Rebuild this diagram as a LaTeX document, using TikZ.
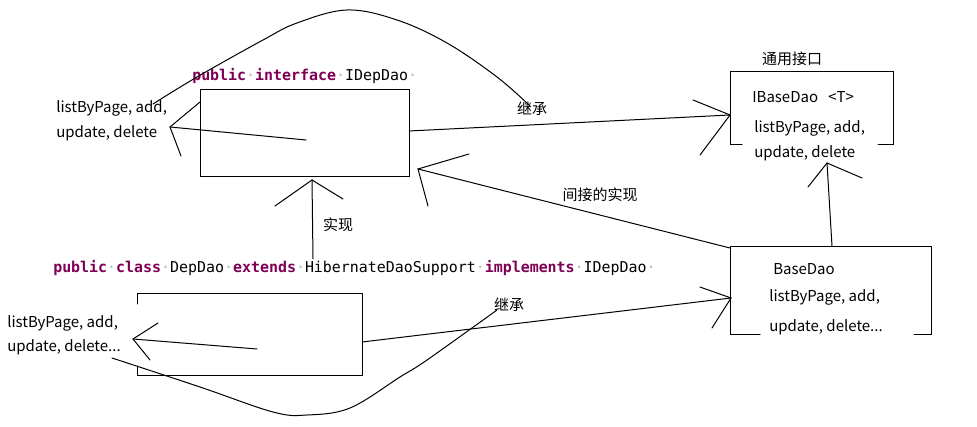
\documentclass[tikz,border=0pt]{standalone}
\usepackage{fontspec}
\setmainfont{Noto Sans CJK SC}
\newfontfamily\codefont{DejaVu Sans Mono}
\usetikzlibrary{calc}
\definecolor{kw}{HTML}{7F0055}
\definecolor{dotc}{HTML}{B4B4B4}
\newcommand{\kwd}[1]{\textcolor{kw}{\textbf{#1}}}
\newcommand{\spc}{\textcolor{dotc}{·}}
\begin{document}
\begin{tikzpicture}[x=0.75pt,y=-0.75pt,
  ln/.style={line width=0.75pt, line cap=round, line join=miter},
  lbl/.style={font=\fontsize{11.25}{14}\selectfont, inner sep=0pt, anchor=west},
  clbl/.style={font=\fontsize{11.25}{14}\selectfont, inner sep=0pt},
  code/.style={font=\codefont\fontsize{11.2}{13}\selectfont, inner sep=0pt, anchor=base west},
  boxn/.style={rectangle, inner sep=0pt, outer sep=0pt}]
\useasboundingbox (0,0) rectangle (977,427);

% boxes
\node[boxn, draw, line width=0.75pt, minimum width=156.75pt, minimum height=65.25pt] (topbox) at (304.5,133.5) {};
\node[boxn, minimum width=122.25pt, minimum height=54.75pt] (ibase) at (811.5,108.5) {};
\node[boxn, minimum width=150.75pt, minimum height=65.25pt] (base) at (830.5,290.5) {};
\node[boxn, minimum width=168.75pt, minimum height=60.75pt] (depbox) at (249.5,334.5) {};

\draw[ln] ($(ibase.south west)+(12,0)$) -- (ibase.south west) -- (ibase.north west) -- (ibase.north east) -- (ibase.south east) -- ($(ibase.south east)+(-15,0)$);
\draw[ln] ($(base.south west)+(30,0)$) -- (base.south west) -- (base.north west) -- (base.north east) -- (base.south east) -- ($(base.south east)+(-17,0)$);
\draw[ln] ($(depbox.north west)+(0,10)$) -- (depbox.north west) -- (depbox.north east) -- (depbox.south east) -- (depbox.south west) -- ($(depbox.south west)+(0,-9)$);

% code lines
\node[code] (topcode) at (192,81) {\kwd{public}\spc\kwd{interface}\spc IDepDao\spc};
\node[code] (botcode) at (53,273) {\kwd{public}\spc\kwd{class}\spc DepDao\spc\kwd{extends}\spc HibernateDaoSupport\spc\kwd{implements}\spc IDepDao\spc};

% labels
\node[lbl] (lt1) at (56,108) {listByPage, add,};
\node[lbl] (lt2) at (56,133) {update, delete};
\node[lbl] (lb1) at (7,323) {listByPage, add,};
\node[lbl] (lb2) at (7,347) {update, delete...};
\node[clbl] (tongyong) at (792,59) {通用接口};
\node[lbl] (ib1) at (752,97) {IBaseDao};
\node[lbl] (ibT) at (828,97) {<T>};
\node[lbl] (ib2) at (754,128) {listByPage, add,};
\node[lbl] (ib3) at (754,153) {update, delete};
\node[lbl] (bd1) at (773,269) {BaseDao};
\node[lbl] (bd2) at (769,297) {listByPage, add,};
\node[lbl] (bd3) at (769,327) {update, delete...};
\node[clbl] (jc1) at (532,109) {继承};
\node[clbl] (jc2) at (509,305) {继承};
\node[clbl] (sx) at (338,225) {实现};
\node[clbl] (jj) at (600,195) {间接的实现};

% arrow coordinates
\coordinate (aS) at (409,131); \coordinate (aT) at (730,115); \coordinate (aH1) at (693,100); \coordinate (aH2) at (700,155);
\coordinate (bS) at (730,248); \coordinate (bT) at (418,169); \coordinate (bH1) at (469,154); \coordinate (bH2) at (428,206);
\coordinate (cS) at (313,259); \coordinate (cT) at (312,180); \coordinate (cH1) at (275,206); \coordinate (cH2) at (343,199);
\coordinate (dS) at (362,342); \coordinate (dT) at (731,298); \coordinate (dH1) at (700,287); \coordinate (dH2) at (712,328);
\coordinate (eS) at (832,246); \coordinate (eT) at (827,163); \coordinate (eH1) at (808,187); \coordinate (eH2) at (862,178);
\coordinate (fS) at (306,140); \coordinate (fT) at (170,127); \coordinate (fH1) at (200,102); \coordinate (fH2) at (181,156);
\coordinate (gS) at (257,349); \coordinate (gT) at (133,339); \coordinate (gH1) at (158,323); \coordinate (gH2) at (150,360);

\foreach \a in {a,b,c,d,e,f,g}{
  \draw[ln] (\a S) -- (\a T);
  \draw[ln] (\a H1) -- (\a T) -- (\a H2);
}

% curves
\coordinate (arcL) at (153,104); \coordinate (arcTop) at (347,10); \coordinate (arcR) at (530,106);
\draw[ln] plot[smooth, tension=0.6] coordinates {(153,104) (197,77) (263,40) (297,23) (347,10) (397,20) (447,43) (497,77) (530,106)};
\coordinate (cvL) at (112,358); \coordinate (cvBot) at (310,415); \coordinate (cvR) at (497,310);
\draw[ln] plot[smooth, tension=0.6] coordinates {(112,358) (200,387) (273,412) (307,415) (350,408) (400,377) (427,360) (497,310)};
\end{tikzpicture}
\end{document}
